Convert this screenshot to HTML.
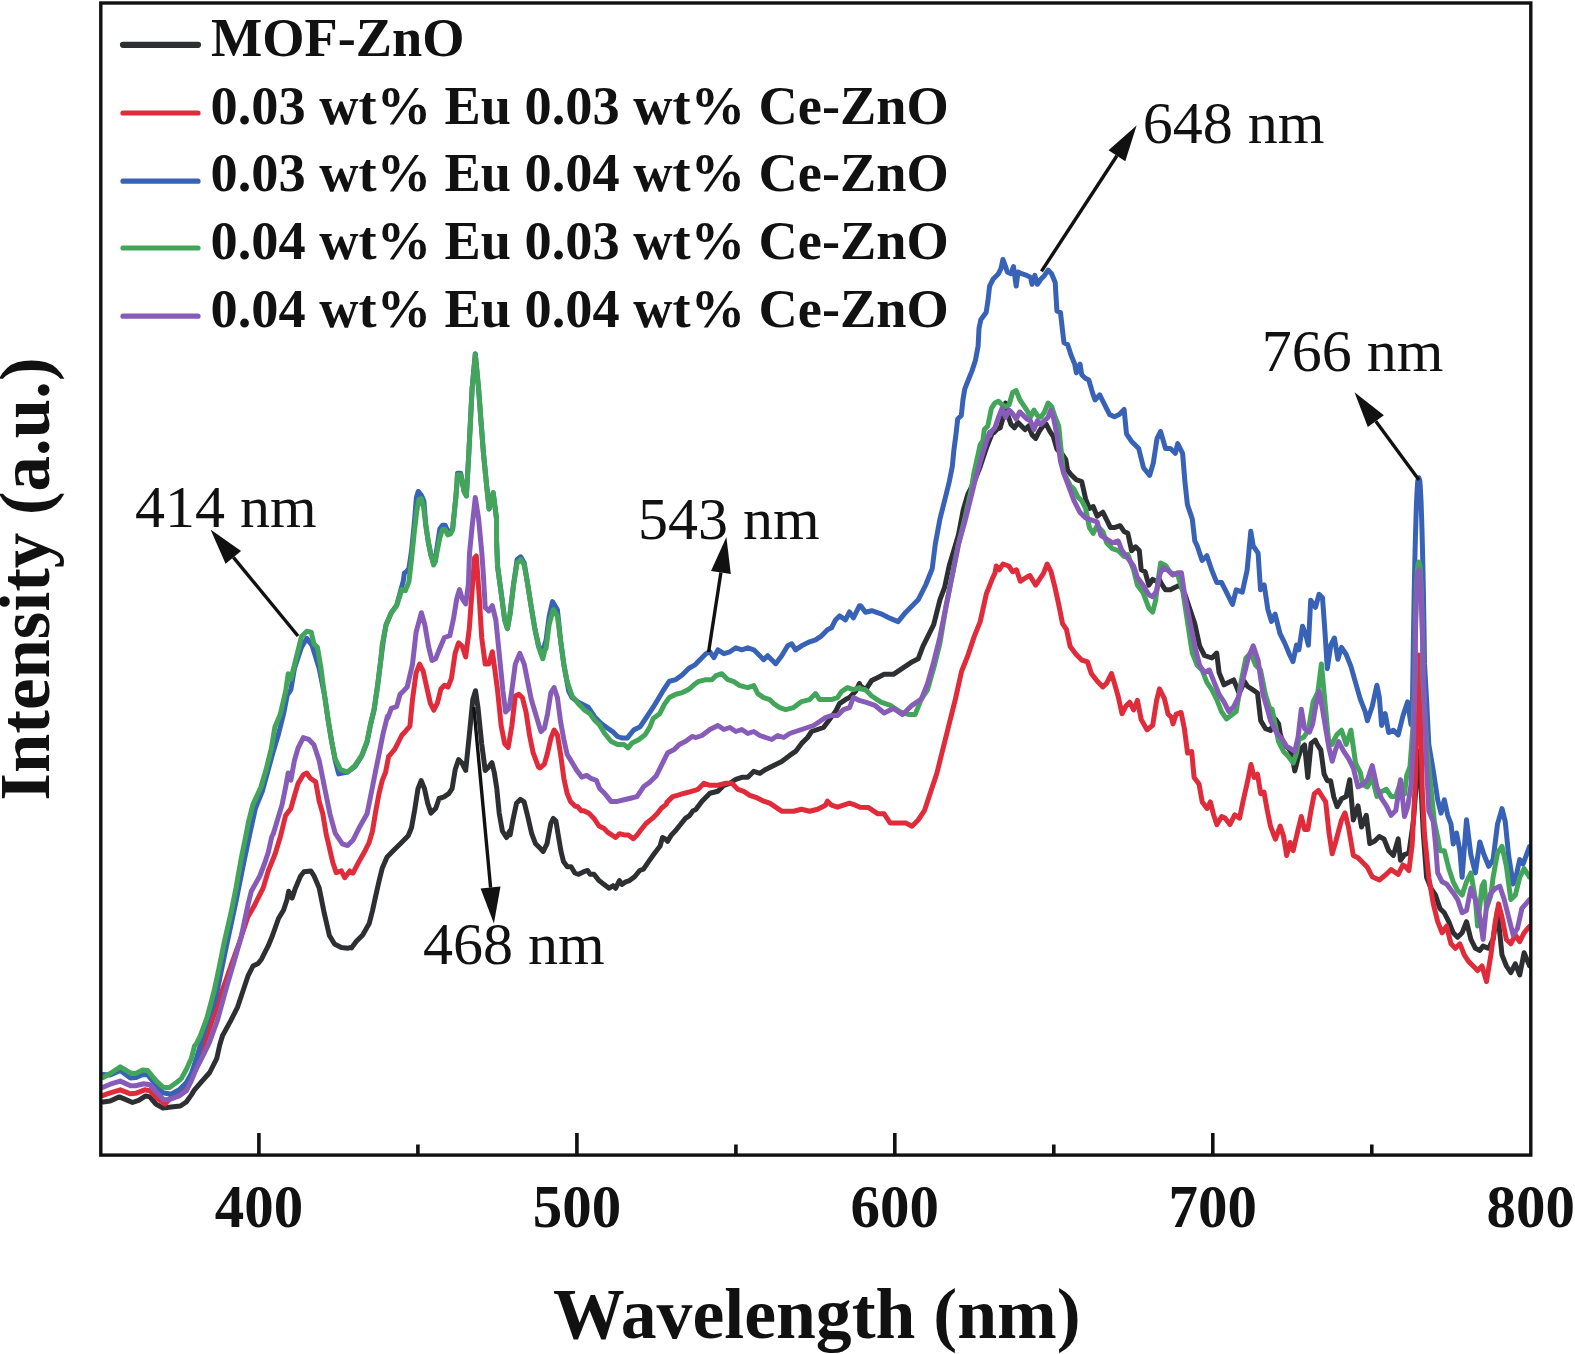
<!DOCTYPE html>
<html><head><meta charset="utf-8"><style>html,body{margin:0;padding:0;background:#fff;overflow:hidden}svg{display:block}</style></head><body>
<svg width="1575" height="1354" viewBox="0 0 1575 1354">
<path d="M103.0 1102.0 110.2 1101.0 119.3 1096.9 125.4 1099.4 132.5 1102.5 138.6 1100.4 145.7 1095.9 149.8 1096.9 155.9 1104.0 163.0 1108.1 171.1 1107.0 180.3 1106.0 186.3 1102.0 191.4 1094.9 194.5 1089.8 201.6 1081.6 209.7 1072.5 216.8 1058.3 219.8 1044.7 222.5 1035.7 230.9 1020.4 237.7 1006.8 242.8 991.5 247.9 976.2 253.0 966.0 258.1 963.5 261.5 959.2 268.3 945.7 272.5 935.5 278.5 918.5 283.6 910.0 287.0 899.8 288.7 891.3 292.1 898.1 295.5 887.9 300.6 876.0 304.0 871.8 310.8 870.9 314.1 876.0 319.2 887.9 324.3 913.4 329.4 935.5 334.5 944.0 341.3 947.4 348.1 948.2 350.0 947.6 351.4 947.9 356.2 941.4 362.7 934.9 369.2 923.6 372.5 910.6 375.7 895.9 379.0 881.3 382.2 868.3 387.1 857.0 392.0 852.1 395.2 848.8 400.1 844.0 405.0 839.1 408.2 835.8 411.5 827.7 414.7 809.9 418.0 788.7 421.2 780.6 424.5 788.7 427.7 803.4 431.0 813.1 435.8 808.2 439.1 798.5 444.0 796.9 448.8 793.6 452.1 788.7 455.3 769.2 458.6 759.5 461.8 762.7 462.5 764.1 463.9 766.9 465.7 770.4 469.3 735.0 472.8 699.5 475.5 690.7 478.1 708.4 481.7 743.8 485.2 770.4 488.8 766.9 491.5 763.1 491.9 762.7 494.3 772.5 496.8 788.7 499.2 813.1 502.4 831.0 506.5 837.5 509.8 831.0 510.0 831.9 510.2 834.9 512.7 821.0 516.5 803.2 520.3 799.4 524.1 801.9 527.9 817.1 531.7 833.7 535.6 843.8 539.4 847.6 543.2 851.4 547.0 843.8 550.8 823.5 553.3 818.4 555.9 821.0 558.4 836.2 561.0 851.4 563.5 861.6 567.3 866.7 571.1 866.7 574.9 873.0 578.7 874.3 583.8 871.7 587.6 870.5 590.2 874.3 594.0 874.3 599.0 880.6 604.1 884.4 609.2 888.3 613.0 885.7 615.6 888.3 619.4 880.6 621.9 884.4 625.7 881.9 629.5 880.6 634.6 876.8 639.7 870.5 643.5 869.2 648.6 861.6 654.9 852.7 660.0 846.3 662.5 837.5 665.1 838.7 667.6 841.3 671.4 834.9 675.2 831.1 680.3 824.8 685.4 818.4 689.2 815.9 693.0 810.8 695.0 810.0 696.0 809.2 702.0 801.2 709.9 793.3 717.9 791.3 723.9 785.3 729.9 783.3 735.8 779.3 741.8 777.3 747.8 777.3 753.8 771.3 759.8 773.3 765.7 769.4 773.7 765.4 781.7 761.4 789.7 755.4 795.6 751.4 801.6 743.4 807.6 737.5 811.6 731.5 817.6 729.5 823.5 727.5 829.5 719.5 835.5 711.6 839.5 703.6 845.5 699.6 849.5 697.6 855.4 691.6 859.4 683.6 860.0 685.5 865.5 689.8 871.7 680.5 877.9 677.4 884.1 674.3 893.4 674.3 902.7 668.1 912.0 661.9 918.2 658.8 922.9 646.4 927.5 637.1 933.7 624.7 939.9 599.8 944.6 587.4 949.2 565.7 953.9 550.2 958.5 534.7 963.2 509.9 967.8 494.4 974.0 482.0 980.2 466.5 986.4 447.9 992.6 432.4 993.8 432.7 996.7 429.6 1000.2 427.8 1003.8 415.4 1005.6 403.0 1007.3 413.6 1010.9 424.3 1014.4 427.8 1018.0 422.5 1021.5 426.0 1025.0 429.6 1028.6 426.0 1032.1 434.9 1035.7 438.4 1039.2 431.4 1042.8 426.0 1046.3 424.3 1049.9 431.4 1053.4 436.7 1056.9 449.1 1062.3 454.4 1065.8 459.7 1067.6 470.3 1069.8 473.1 1070.2 473.8 1076.0 479.6 1081.7 481.5 1085.6 498.8 1089.4 508.4 1093.2 506.5 1097.1 516.1 1102.8 512.2 1106.7 519.9 1110.5 527.6 1114.4 527.6 1120.1 525.7 1124.0 531.4 1127.8 533.3 1131.6 550.6 1135.5 546.8 1139.3 550.6 1141.2 569.8 1145.1 571.7 1148.9 585.2 1152.7 579.4 1156.6 581.3 1160.0 580.4 1160.6 582.4 1165.5 589.8 1170.4 589.8 1175.3 587.3 1180.1 584.9 1185.0 594.6 1189.9 609.2 1194.8 623.9 1199.6 645.8 1204.5 655.5 1211.8 658.0 1216.7 653.1 1219.1 672.6 1224.0 684.8 1228.9 682.3 1233.7 679.9 1238.6 692.1 1240.5 690.6 1244.5 681.6 1247.7 686.5 1252.6 689.7 1257.5 693.0 1260.7 720.6 1265.6 728.7 1270.5 730.4 1275.4 719.0 1278.6 723.9 1280.2 733.6 1283.5 745.0 1288.4 748.2 1291.6 753.1 1294.8 771.0 1298.1 758.0 1301.3 748.2 1304.6 745.0 1307.8 777.5 1311.1 743.4 1315.2 740.1 1317.6 745.0 1320.8 749.9 1324.1 774.2 1327.3 780.7 1330.6 780.7 1333.8 797.0 1337.1 806.7 1340.0 801.8 1341.5 798.7 1346.2 796.4 1349.7 779.8 1353.3 820.0 1358.0 805.8 1361.5 827.1 1366.3 815.3 1369.8 843.6 1374.5 841.3 1379.3 836.5 1384.0 838.9 1388.7 850.7 1393.4 855.4 1398.2 838.9 1400.5 860.2 1404.5 854.6 1408.9 853.0 1413.3 821.9 1417.7 766.5 1418.8 751.0 1421.1 788.7 1423.3 833.0 1426.6 877.3 1431.0 888.4 1435.5 895.1 1439.9 908.4 1444.3 912.8 1448.8 921.7 1453.2 932.8 1457.6 937.2 1462.1 932.8 1466.5 921.7 1470.9 939.4 1475.4 948.3 1479.8 950.5 1483.1 946.1 1488.7 948.3 1493.1 939.4 1497.5 910.6 1502.0 954.9 1506.4 966.0 1510.8 972.7 1515.3 963.8 1519.7 974.9 1524.1 952.7 1529.5 965.7" fill="none" stroke="#2e2f33" stroke-width="5.0" stroke-linejoin="round" stroke-linecap="round"/>
<path d="M103.0 1095.4 110.2 1092.8 120.3 1089.8 130.5 1093.8 135.6 1093.3 144.7 1089.8 149.8 1090.8 156.9 1097.9 165.0 1104.0 173.1 1095.4 181.3 1090.8 189.4 1082.7 195.5 1067.4 199.6 1057.3 204.0 1044.1 214.0 1015.3 220.8 994.9 230.9 966.0 239.4 942.3 247.9 916.8 254.7 904.9 263.2 887.9 268.3 870.9 275.1 854.0 280.3 837.0 285.6 815.5 290.9 808.4 294.4 796.0 298.0 783.6 303.3 774.8 306.8 773.0 310.4 778.3 315.7 781.9 319.2 801.4 322.8 813.8 326.3 834.8 327.7 840.4 332.8 862.5 336.2 872.6 341.3 870.9 344.7 877.7 349.8 870.9 350.0 872.4 353.0 873.2 357.9 863.5 364.4 852.1 369.2 842.3 372.5 831.0 375.7 811.5 379.0 793.6 382.2 780.6 385.5 772.5 388.7 756.2 390.8 754.0 394.8 749.1 398.4 742.1 401.9 735.0 405.4 731.4 409.9 726.1 412.5 699.5 416.1 672.9 419.6 664.1 423.2 671.2 426.7 687.1 430.3 703.1 433.8 710.2 437.4 703.1 440.9 688.9 444.4 685.3 448.0 687.1 451.5 678.2 455.1 653.4 458.6 642.8 462.2 646.3 465.7 657.0 469.3 628.6 471.9 593.2 474.6 557.7 476.3 556.0 479.0 593.2 481.7 637.5 485.2 664.1 488.8 664.1 492.3 651.7 494.1 664.1 497.6 690.7 501.2 726.1 504.7 743.8 508.2 747.4 511.8 726.1 515.3 696.0 518.9 694.2 522.4 697.7 526.0 711.9 529.5 735.0 533.1 752.7 538.4 766.9 540.0 768.0 544.4 764.1 547.6 752.7 550.9 738.1 554.1 730.0 557.4 734.8 560.6 754.3 563.9 778.7 567.1 793.3 570.4 801.4 575.2 806.3 577.5 806.5 581.3 810.8 583.8 810.8 588.9 813.3 594.0 818.4 599.0 826.0 604.1 828.6 607.9 832.4 611.7 834.9 615.6 837.5 619.4 833.7 624.4 834.9 628.3 834.9 633.3 838.7 637.1 834.9 641.0 829.8 646.0 823.5 652.4 818.4 657.5 813.3 661.3 808.3 666.3 804.4 666.8 802.4 672.7 796.6 679.2 794.9 680.0 794.5 680.3 794.3 685.4 793.0 690.5 791.7 695.0 790.3 698.0 789.3 704.0 783.3 709.9 785.3 717.9 785.3 725.9 783.3 731.9 783.3 737.8 789.3 743.8 791.3 749.8 795.3 755.8 797.3 763.7 801.2 769.7 803.2 775.7 807.2 781.7 811.2 787.7 811.2 793.6 811.2 801.6 809.2 809.6 811.2 817.6 809.2 825.5 805.2 827.5 801.2 831.5 805.2 837.5 807.2 843.5 805.2 849.5 803.2 855.4 805.2 860.0 807.2 868.6 807.6 877.9 813.8 884.1 813.8 890.3 823.1 899.6 823.1 905.8 823.1 912.0 826.2 918.2 820.0 924.4 810.7 930.6 792.1 936.8 773.5 943.0 748.7 949.2 723.9 955.4 699.1 961.6 671.2 967.8 655.7 974.0 637.1 980.2 621.6 986.4 593.6 992.6 578.1 995.0 573.0 996.3 566.0 999.2 569.8 1003.0 564.0 1008.8 566.0 1012.6 571.7 1016.5 569.8 1020.3 581.3 1026.1 577.5 1029.9 575.6 1035.7 585.2 1039.5 579.4 1043.3 573.6 1047.2 564.0 1051.0 571.7 1054.9 587.1 1058.7 604.4 1062.5 623.6 1066.4 629.3 1070.2 646.6 1076.0 654.3 1081.7 660.0 1087.5 661.9 1091.3 673.5 1097.1 681.1 1102.8 686.9 1106.7 683.1 1111.5 673.5 1114.4 683.1 1118.2 696.5 1122.0 713.8 1125.9 706.1 1129.7 702.2 1133.6 709.9 1137.4 700.3 1141.2 719.5 1147.0 729.9 1152.7 725.3 1156.6 700.3 1159.5 688.8 1164.3 698.4 1166.8 708.6 1168.0 714.0 1171.3 717.2 1173.0 723.9 1176.2 714.1 1181.1 712.5 1184.4 728.7 1187.6 753.1 1191.7 751.5 1194.1 777.5 1199.0 784.0 1202.2 801.9 1207.1 808.4 1210.4 801.9 1213.6 814.8 1216.9 824.6 1221.7 816.5 1225.0 818.1 1229.9 824.6 1234.7 814.8 1239.6 818.1 1242.9 801.9 1247.7 780.7 1251.0 764.5 1254.2 777.5 1257.5 774.2 1260.7 793.7 1264.0 792.1 1267.2 810.0 1270.5 826.2 1275.4 839.2 1280.2 826.2 1283.5 836.0 1286.7 855.5 1290.0 842.5 1293.2 850.6 1298.1 829.5 1301.3 816.5 1304.6 829.5 1307.8 829.5 1311.1 810.0 1314.3 793.7 1318.4 790.5 1322.5 797.0 1325.7 801.9 1329.0 832.7 1332.2 853.8 1335.5 842.5 1340.0 825.7 1341.5 820.0 1345.0 812.9 1348.5 827.1 1353.3 855.4 1358.0 857.8 1362.7 862.5 1367.4 867.3 1372.2 876.7 1379.3 880.0 1386.4 874.3 1391.1 869.6 1398.2 874.3 1402.9 864.9 1405.0 866.1 1408.9 870.7 1412.2 844.1 1415.5 777.6 1417.0 710.2 1417.4 663.0 1417.8 658.0 1418.8 655.0 1419.8 658.0 1420.2 663.0 1420.3 698.3 1422.2 788.7 1424.4 833.0 1428.8 877.3 1433.3 903.9 1437.7 921.7 1442.1 932.8 1446.6 926.1 1451.0 943.8 1455.4 948.3 1459.9 943.8 1464.3 954.9 1468.7 961.6 1473.2 966.0 1477.6 970.5 1482.0 966.0 1486.5 981.5 1490.9 954.9 1495.3 921.7 1498.6 903.9 1502.0 917.2 1506.4 939.4 1510.8 943.8 1515.3 935.0 1519.7 941.6 1524.1 932.8 1529.5 926.3" fill="none" stroke="#e02b3b" stroke-width="5.0" stroke-linejoin="round" stroke-linecap="round"/>
<path d="M103.0 1074.5 110.2 1075.0 120.3 1070.5 130.5 1078.1 135.6 1077.6 142.7 1074.5 147.7 1075.0 155.9 1084.7 163.0 1092.8 171.1 1094.3 179.2 1089.8 186.3 1082.7 191.4 1073.5 196.5 1058.3 200.8 1043.9 207.2 1022.1 215.7 998.3 225.8 949.1 236.0 901.5 244.5 859.1 249.8 834.0 255.4 808.4 262.5 790.7 273.2 751.7 278.5 734.0 283.8 712.8 287.3 695.0 290.9 689.7 294.4 668.5 301.5 647.2 306.8 638.3 312.1 645.4 319.2 668.5 324.5 695.0 328.1 719.9 331.6 741.1 335.2 760.6 338.7 773.9 347.6 772.1 354.7 766.8 361.7 756.2 367.1 742.0 370.6 724.3 374.1 710.1 377.7 685.3 381.2 657.0 383.3 641.0 386.0 625.1 391.3 612.7 396.6 605.6 401.9 586.1 403.3 580.9 404.4 573.0 406.2 572.1 408.9 568.6 411.5 550.9 414.2 524.3 416.4 497.7 418.2 491.5 421.3 495.1 423.9 501.3 425.7 524.3 428.3 542.0 431.0 555.3 433.7 563.3 435.4 557.9 437.2 546.4 439.9 528.7 442.5 525.2 445.2 525.2 447.8 531.4 450.5 532.3 452.7 527.8 454.0 515.4 455.8 497.7 457.0 482.6 457.5 473.2 460.7 473.2 464.0 491.1 466.4 495.9 468.8 453.7 472.1 388.7 475.3 353.8 478.6 388.7 481.0 421.2 483.5 453.7 486.7 486.2 489.1 508.9 491.6 499.2 493.2 492.7 496.5 518.7 496.5 539.4 497.6 566.6 501.2 593.2 504.7 619.8 507.4 628.6 510.0 614.4 513.6 584.3 517.1 559.5 520.7 556.8 524.2 563.0 527.7 584.3 531.3 607.4 534.8 628.6 538.4 644.6 542.8 655.2 545.0 643.3 546.0 640.6 549.2 616.2 552.5 601.6 557.4 609.7 560.6 640.6 563.9 665.0 568.7 691.0 572.0 697.5 578.5 702.3 588.2 707.2 594.7 717.0 601.2 723.5 607.7 728.3 612.6 731.6 617.5 736.5 622.3 738.1 627.2 738.1 633.7 730.0 640.2 726.7 646.7 717.0 653.2 707.2 658.1 699.1 662.9 691.0 669.4 681.2 675.9 679.6 682.4 674.7 688.9 668.2 695.0 664.9 698.0 661.7 705.9 653.7 709.9 651.8 713.9 657.7 717.9 649.8 723.9 653.7 729.9 651.8 735.8 647.8 741.8 649.8 747.8 647.8 753.8 649.8 759.8 655.7 763.7 659.7 767.7 655.7 771.7 659.7 775.7 663.7 781.7 655.7 787.7 645.8 791.7 643.8 795.6 649.8 801.6 645.8 809.6 641.8 815.6 639.8 821.6 635.8 827.5 629.8 831.5 627.8 835.5 619.9 839.5 615.9 845.5 619.9 849.5 611.9 853.4 617.9 859.4 605.9 860.0 607.0 860.9 606.0 865.5 612.2 871.7 610.7 881.0 613.8 890.3 618.4 898.1 621.6 905.8 612.2 912.0 606.0 918.2 599.8 926.0 584.3 932.2 568.8 935.3 544.0 939.9 519.2 944.6 500.6 949.2 482.0 952.3 466.5 953.8 450.9 955.9 434.9 957.7 419.0 961.3 415.4 963.0 399.5 964.8 388.8 968.3 380.0 971.9 371.1 975.4 360.5 978.1 346.3 979.0 328.6 980.8 319.7 986.1 312.6 987.8 302.0 989.6 286.1 993.2 279.0 998.5 273.7 1001.1 268.3 1002.9 259.5 1005.6 266.6 1007.3 271.9 1010.9 273.7 1013.5 266.6 1016.2 286.1 1018.0 271.9 1021.5 273.7 1026.8 275.4 1030.4 277.2 1032.1 284.3 1034.8 275.4 1037.4 284.3 1041.0 279.0 1044.5 275.4 1048.1 270.1 1051.6 273.7 1055.2 282.5 1056.9 310.9 1060.5 312.6 1062.3 328.6 1064.0 342.8 1067.6 344.5 1071.1 355.2 1074.7 364.0 1076.4 372.9 1080.0 364.0 1081.7 374.7 1085.3 378.2 1088.8 380.0 1092.4 392.4 1095.0 400.0 1099.7 394.9 1104.6 404.6 1109.5 414.4 1114.4 416.8 1119.2 414.4 1124.1 409.5 1126.5 433.8 1131.4 441.2 1138.7 448.5 1143.6 468.0 1149.7 475.3 1153.3 463.1 1157.0 438.7 1160.6 431.4 1165.5 448.5 1170.4 448.5 1175.3 453.3 1177.7 443.6 1182.6 453.3 1185.0 482.6 1187.4 504.5 1192.3 519.1 1194.8 541.0 1197.2 545.9 1202.1 560.5 1206.9 555.7 1211.8 570.3 1216.7 582.4 1221.5 582.4 1226.4 592.2 1232.5 604.4 1236.2 589.8 1242.3 592.2 1247.1 570.3 1250.8 531.3 1253.2 545.9 1258.1 553.2 1260.5 589.8 1264.2 584.9 1267.8 609.2 1271.5 621.4 1275.1 614.1 1280.0 633.6 1284.9 643.3 1285.0 643.6 1289.5 654.5 1293.0 661.6 1296.5 645.1 1298.9 649.8 1302.5 626.2 1306.0 635.6 1308.4 645.1 1310.7 600.2 1315.5 607.3 1319.0 594.3 1322.5 597.8 1324.9 630.9 1327.3 668.7 1330.8 645.1 1334.4 638.0 1337.9 659.3 1341.5 647.4 1346.2 654.5 1350.9 666.4 1355.6 682.9 1360.4 699.4 1365.1 711.3 1367.4 720.7 1372.2 706.5 1376.9 685.3 1379.3 697.1 1381.6 725.4 1385.2 713.6 1388.7 732.5 1393.4 730.2 1398.2 734.9 1402.9 716.0 1407.6 701.8 1411.0 724.6 1412.5 699.8 1413.0 667.7 1413.6 627.7 1414.2 592.7 1414.8 562.7 1415.4 537.7 1416.0 517.7 1416.5 502.7 1417.0 492.7 1417.4 485.7 1417.8 480.7 1418.8 477.7 1419.8 480.7 1420.2 485.7 1420.6 492.7 1421.1 502.7 1421.6 517.7 1422.2 537.7 1422.8 562.7 1423.4 592.7 1424.0 627.7 1424.5 663.4 1426.8 703.9 1428.8 744.3 1433.3 770.9 1437.7 799.8 1441.0 813.1 1444.3 799.8 1447.7 815.3 1451.0 824.1 1453.2 844.1 1456.5 833.0 1459.9 850.7 1462.1 877.3 1466.5 819.7 1470.9 855.2 1475.4 872.9 1479.8 841.9 1484.2 855.2 1488.7 866.3 1493.1 859.6 1497.5 824.1 1502.0 808.6 1505.3 821.9 1508.6 855.2 1513.1 884.0 1516.4 875.1 1519.7 859.6 1523.0 864.0 1526.4 855.2 1529.5 846.7" fill="none" stroke="#3862b6" stroke-width="5.0" stroke-linejoin="round" stroke-linecap="round"/>
<path d="M103.0 1077.6 110.2 1073.5 120.3 1066.9 130.5 1073.0 135.6 1073.5 142.7 1070.0 147.7 1070.5 155.9 1080.6 163.0 1087.2 169.1 1087.7 176.2 1082.7 181.3 1078.6 186.3 1069.5 191.4 1058.3 194.5 1046.1 196.5 1043.6 200.4 1035.7 207.2 1017.0 214.0 991.5 219.1 967.7 224.2 942.3 230.9 913.4 236.0 887.9 241.1 859.1 246.0 835.0 248.3 822.6 252.8 804.9 260.8 787.2 266.1 769.5 271.4 748.2 274.9 726.9 280.2 714.5 285.6 691.5 288.2 673.8 290.9 679.1 296.2 657.8 301.5 636.6 306.8 631.3 311.2 632.1 313.9 643.7 317.4 647.2 321.0 668.5 324.5 695.0 328.1 719.9 331.6 741.1 335.2 758.8 340.5 769.5 347.6 772.1 354.7 765.9 361.7 755.3 367.1 741.1 370.6 723.4 374.1 709.2 377.7 684.4 381.2 656.1 382.0 645.9 386.0 625.1 391.3 612.7 396.6 605.6 401.9 589.6 403.3 590.0 405.3 590.7 408.9 581.9 411.5 559.7 414.2 533.1 416.8 511.0 419.0 499.5 421.3 498.6 423.5 506.6 425.7 524.3 428.3 542.0 431.0 555.3 433.7 565.0 435.4 561.5 437.2 550.9 439.9 537.6 442.5 529.6 445.2 529.6 447.8 534.9 450.5 534.0 452.7 529.6 454.0 515.4 455.8 497.7 457.0 483.3 457.5 474.8 460.7 474.8 464.0 491.1 466.4 495.9 468.8 453.7 472.1 388.7 475.3 354.6 478.6 388.7 481.0 421.2 483.5 453.7 486.7 486.2 489.1 508.9 491.6 499.2 493.2 492.7 496.5 518.7 496.5 539.4 497.6 566.6 501.2 593.2 504.7 619.8 507.4 628.6 510.0 614.4 513.6 584.3 517.1 563.0 520.7 559.5 524.2 564.8 527.7 584.3 531.3 607.4 534.8 628.6 538.4 646.3 542.8 658.8 545.0 649.5 546.0 648.7 549.2 624.4 553.3 609.7 557.4 616.2 560.6 640.6 563.9 665.0 567.1 681.2 572.0 695.8 578.5 704.0 585.0 710.5 589.9 713.7 594.7 720.2 599.6 725.1 604.5 733.2 611.0 741.3 617.5 744.6 624.0 744.6 628.0 747.8 632.1 742.9 638.6 739.7 645.1 734.8 650.0 726.7 653.2 718.6 659.7 713.7 664.6 704.0 669.4 697.5 675.9 694.2 682.4 692.6 688.9 689.3 695.0 683.9 698.0 681.7 705.9 679.7 711.9 679.7 715.9 675.7 721.9 673.7 727.9 679.7 733.9 681.7 739.8 685.6 747.8 687.6 753.8 685.6 757.8 693.6 763.7 697.6 769.7 699.6 773.7 703.6 779.7 707.6 785.7 709.6 793.6 707.6 801.6 701.6 809.6 699.6 815.6 693.6 819.6 699.6 825.5 699.6 831.5 699.6 837.5 697.6 841.5 691.6 847.5 687.6 853.4 689.6 859.4 687.6 860.0 688.7 865.5 689.8 871.7 696.0 881.0 702.2 890.3 705.3 899.6 711.5 908.9 714.6 915.1 714.6 921.3 699.1 927.5 689.8 933.7 668.1 939.9 643.3 946.1 606.0 952.3 575.0 958.5 544.0 964.7 519.2 970.9 491.3 974.0 472.7 980.2 444.8 981.8 442.2 982.5 443.8 984.3 429.6 987.8 426.0 991.4 408.3 994.9 403.0 998.5 401.2 1002.0 404.8 1005.6 406.5 1009.1 404.8 1012.6 392.4 1016.2 390.6 1019.7 399.5 1023.3 404.8 1026.8 410.1 1030.4 417.2 1033.9 410.1 1037.4 415.4 1041.0 417.2 1044.5 411.9 1048.1 403.0 1051.6 406.5 1055.2 417.2 1058.7 426.0 1060.5 443.8 1062.3 461.5 1063.3 471.9 1070.2 485.4 1074.0 489.2 1077.9 496.9 1081.7 500.7 1085.6 508.4 1089.4 527.6 1093.2 533.3 1097.1 525.7 1102.8 531.4 1106.7 542.9 1112.4 548.7 1118.2 550.6 1124.0 556.4 1127.8 554.5 1133.6 569.8 1137.4 585.2 1143.1 592.8 1148.9 608.2 1152.7 612.0 1155.6 600.5 1157.8 582.6 1160.6 563.0 1165.5 565.4 1170.4 572.7 1177.7 575.1 1182.6 589.8 1187.4 621.4 1192.3 653.1 1197.2 665.3 1202.1 670.1 1206.9 682.3 1211.8 689.6 1216.7 699.4 1221.5 711.6 1226.4 718.9 1236.2 711.6 1241.0 682.3 1245.9 658.0 1250.8 653.1 1255.7 665.3 1260.5 670.1 1265.4 694.5 1269.8 708.5 1272.1 709.2 1275.4 725.5 1278.6 741.7 1283.5 751.5 1288.4 756.4 1293.2 762.9 1296.5 753.1 1299.0 739.1 1303.6 737.3 1308.4 730.2 1313.1 701.8 1317.8 692.4 1321.4 664.0 1324.9 701.8 1328.5 739.6 1332.0 744.4 1336.7 734.9 1341.5 730.2 1346.2 744.4 1350.9 730.2 1355.6 763.3 1360.4 772.7 1362.7 784.5 1367.4 786.9 1372.2 777.4 1376.9 796.4 1381.6 791.6 1386.4 789.3 1391.1 796.4 1395.8 796.4 1400.5 782.2 1404.5 794.2 1406.7 775.4 1410.0 766.5 1413.3 722.2 1415.0 670.9 1415.4 622.0 1416.0 602.0 1416.5 587.0 1417.0 577.0 1417.4 570.0 1417.8 565.0 1418.8 562.0 1419.8 565.0 1420.2 570.0 1420.6 577.0 1421.1 587.0 1421.6 602.0 1422.2 622.0 1422.8 647.0 1422.8 676.9 1426.6 744.3 1431.0 788.7 1434.4 821.9 1437.7 837.4 1439.9 850.7 1444.3 850.7 1448.8 868.5 1453.2 881.8 1457.6 890.6 1462.1 895.1 1466.5 881.8 1470.9 872.9 1475.4 899.5 1477.6 926.1 1482.0 886.2 1484.2 881.8 1486.5 908.4 1490.9 895.1 1493.1 877.3 1497.5 853.0 1502.0 846.3 1506.4 866.3 1510.8 899.5 1515.3 895.1 1519.7 877.3 1524.1 868.5 1529.5 877.1" fill="none" stroke="#42a55a" stroke-width="5.0" stroke-linejoin="round" stroke-linecap="round"/>
<path d="M103.0 1087.2 110.2 1084.2 120.3 1081.1 130.5 1085.7 135.6 1085.7 143.7 1083.7 149.8 1084.7 155.9 1091.8 164.0 1099.9 171.1 1098.9 179.2 1095.9 186.3 1090.8 191.4 1080.6 196.5 1068.4 201.6 1058.3 207.7 1046.1 209.5 1042.2 217.4 1020.4 225.8 989.8 234.3 960.9 241.1 937.2 247.9 904.9 251.3 891.3 259.8 876.0 264.9 862.5 268.3 852.3 271.7 837.0 273.3 833.7 276.7 822.6 282.0 804.9 285.6 787.2 288.2 773.0 290.9 780.1 294.4 760.6 298.0 748.2 303.3 737.6 308.6 739.3 313.9 744.7 319.2 760.6 324.5 787.2 329.9 813.8 335.2 833.2 342.3 843.9 347.6 845.6 352.9 840.3 360.0 826.2 367.1 813.8 372.4 787.2 375.9 769.5 379.5 751.7 383.0 734.0 387.4 716.3 387.8 717.8 391.3 708.4 396.6 706.6 400.1 694.2 403.7 690.7 407.2 687.1 412.5 664.1 416.1 632.2 421.4 612.7 424.9 625.1 428.5 646.3 432.0 660.5 435.6 658.8 439.1 649.9 444.4 637.5 449.8 635.7 453.3 619.8 456.8 598.5 459.5 589.6 462.2 598.5 465.7 603.8 468.4 584.3 469.5 553.8 472.1 526.8 475.3 497.6 478.6 518.7 481.8 552.5 483.4 575.4 485.2 607.4 488.8 610.9 492.3 605.6 495.8 619.8 499.4 655.2 502.9 690.7 505.6 711.9 509.1 708.4 511.8 690.7 515.3 664.1 519.8 653.4 524.2 664.1 527.7 681.8 531.3 699.5 536.6 717.2 540.0 728.5 541.1 731.6 544.4 728.3 547.6 713.7 550.9 692.6 554.1 687.7 557.4 697.5 560.6 721.8 563.9 739.7 567.1 754.3 572.0 762.4 576.9 770.6 581.7 777.1 586.6 775.4 591.5 778.7 596.3 780.3 599.6 788.4 604.5 793.3 611.0 801.4 617.5 801.4 624.0 799.8 630.5 798.2 637.0 796.6 643.5 786.8 650.0 781.9 656.5 775.4 662.9 762.4 667.8 752.7 674.3 749.4 679.2 744.6 685.7 741.3 692.2 736.5 694.5 737.1 696.0 737.5 702.0 735.5 709.9 729.5 717.9 725.5 723.9 729.5 729.9 727.5 735.8 731.5 741.8 729.5 747.8 733.5 753.8 731.5 759.8 735.5 765.7 737.5 771.7 739.5 777.7 735.5 783.7 737.5 789.7 733.5 795.6 731.5 801.6 729.5 807.6 727.5 813.6 725.5 819.6 721.5 825.5 717.5 831.5 715.5 837.5 715.5 843.5 709.6 849.5 707.6 853.4 697.6 857.4 699.6 860.0 700.6 865.5 702.2 874.8 705.3 884.1 713.0 893.4 708.4 902.7 714.6 912.0 705.3 921.3 699.1 927.5 683.6 933.7 661.9 939.9 637.1 946.1 606.0 952.3 575.0 958.5 544.0 964.7 522.3 970.9 497.5 977.1 472.7 983.3 451.0 989.5 432.4 989.8 435.6 991.4 431.4 994.9 427.8 998.5 417.2 1002.0 408.3 1005.6 417.2 1009.1 410.1 1012.6 413.6 1016.2 419.0 1019.7 411.9 1023.3 415.4 1026.8 419.0 1030.4 420.7 1033.9 429.6 1037.4 420.7 1041.0 424.3 1044.5 420.7 1048.1 417.2 1050.7 410.1 1053.4 417.2 1056.9 434.9 1060.5 461.5 1064.0 473.9 1064.3 474.8 1068.3 485.4 1074.0 500.7 1079.8 512.2 1085.6 518.0 1091.3 519.9 1097.1 521.8 1100.9 535.3 1106.7 539.1 1112.4 542.9 1118.2 541.0 1122.0 550.6 1127.8 558.3 1133.6 566.0 1137.4 577.5 1143.1 585.2 1148.9 594.8 1152.7 596.7 1156.6 590.9 1160.0 573.8 1163.1 567.8 1168.0 570.3 1172.8 575.1 1177.7 572.7 1181.4 572.7 1185.0 597.1 1189.9 621.4 1194.8 645.8 1199.6 665.3 1204.5 672.6 1209.4 670.1 1214.2 682.3 1219.1 694.5 1224.0 701.8 1228.9 711.6 1233.7 706.7 1238.6 696.9 1243.5 677.5 1248.3 658.0 1253.2 645.8 1258.1 660.4 1263.0 694.5 1267.5 709.6 1270.5 720.6 1273.7 727.1 1277.0 733.6 1281.9 738.5 1286.7 746.6 1290.0 748.2 1294.8 751.5 1298.1 736.9 1301.3 709.2 1304.6 728.7 1309.5 732.0 1312.7 723.9 1316.0 704.4 1319.2 691.4 1322.5 709.2 1325.7 728.7 1329.0 748.2 1332.2 761.2 1335.5 749.9 1338.7 741.7 1340.0 744.4 1343.8 751.4 1348.5 758.5 1353.3 768.0 1358.0 786.9 1362.7 784.5 1367.4 779.8 1372.2 765.6 1376.9 786.9 1381.6 798.7 1386.4 805.8 1391.1 815.3 1395.8 810.5 1400.5 779.8 1404.5 816.6 1407.8 806.4 1411.1 784.2 1413.3 744.3 1415.0 679.3 1415.5 630.0 1416.1 610.0 1416.6 595.0 1417.1 585.0 1417.5 578.0 1417.9 573.0 1418.9 570.0 1419.9 573.0 1420.3 578.0 1420.7 585.0 1421.2 595.0 1421.7 610.0 1422.3 630.0 1422.9 655.0 1423.3 675.4 1424.5 704.9 1426.6 766.5 1428.8 810.8 1433.3 821.9 1435.5 844.1 1437.7 872.9 1442.1 881.8 1446.6 884.0 1453.2 892.9 1457.6 899.5 1462.1 912.8 1466.5 910.6 1470.9 888.4 1475.4 899.5 1479.8 917.2 1483.1 939.4 1486.5 906.2 1490.9 892.9 1495.3 888.4 1499.8 886.2 1504.2 899.5 1508.6 917.2 1513.1 935.0 1517.5 928.3 1521.9 908.4 1529.5 899.7" fill="none" stroke="#875cb9" stroke-width="5.0" stroke-linejoin="round" stroke-linecap="round"/>
<rect x="100.8" y="3.0" width="1430.0" height="1152.1" fill="none" stroke="#111" stroke-width="3.4"/>
<path d="M258.9 1155.1V1133.1 M417.9 1155.1V1144.6 M576.9 1155.1V1133.1 M735.9 1155.1V1144.6 M894.8 1155.1V1133.1 M1053.8 1155.1V1144.6 M1212.8 1155.1V1133.1 M1371.8 1155.1V1144.6" stroke="#111" stroke-width="3.6" fill="none"/>
<g font-family="Liberation Serif" font-weight="bold" font-size="61" fill="#111" text-anchor="middle">
<text transform="translate(258.9,1226.9) scale(0.966,1)">400</text>
<text transform="translate(576.9,1226.9) scale(0.966,1)">500</text>
<text transform="translate(894.8,1226.9) scale(0.966,1)">600</text>
<text transform="translate(1212.8,1226.9) scale(0.966,1)">700</text>
<text transform="translate(1530.8,1226.9) scale(0.966,1)">800</text>
</g>
<text font-family="Liberation Serif" font-weight="bold" font-size="71.7" fill="#111" x="553" y="1337.8">Wavelength (nm)</text>
<text font-family="Liberation Serif" font-weight="bold" font-size="72" fill="#111" transform="translate(49,800.7) rotate(-90) scale(0.985,1)">Intensity (a.u.)</text>
<line x1="123" y1="44.8" x2="198" y2="44.8" stroke="#2e2f33" stroke-width="6.2" stroke-linecap="round"/>
<line x1="123" y1="113" x2="198" y2="113" stroke="#e02b3b" stroke-width="5.2" stroke-linecap="round"/>
<line x1="123" y1="181.2" x2="198" y2="181.2" stroke="#3862b6" stroke-width="5.2" stroke-linecap="round"/>
<line x1="123" y1="248" x2="198" y2="248" stroke="#42a55a" stroke-width="5.2" stroke-linecap="round"/>
<line x1="123" y1="316.2" x2="198" y2="316.2" stroke="#875cb9" stroke-width="5.2" stroke-linecap="round"/>
<g font-family="Liberation Serif" font-weight="bold" font-size="55.7" fill="#111">
<text transform="translate(211,56) scale(0.976,1)">MOF-ZnO</text>
<text transform="translate(210.6,123.6) scale(0.976,1)">0.03 wt% Eu 0.03 wt% Ce-ZnO</text>
<text transform="translate(210.6,191.1) scale(0.976,1)">0.03 wt% Eu 0.04 wt% Ce-ZnO</text>
<text transform="translate(210.6,258.6) scale(0.976,1)">0.04 wt% Eu 0.03 wt% Ce-ZnO</text>
<text transform="translate(210.6,326.6) scale(0.976,1)">0.04 wt% Eu 0.04 wt% Ce-ZnO</text>
</g>
<g font-family="Liberation Serif" font-size="60" fill="#111">
<text x="135.0" y="527">414 nm</text>
<text x="638.0" y="539">543 nm</text>
<text x="423.0" y="963.6">468 nm</text>
<text x="1142.8" y="143.3">648 nm</text>
<text x="1261.8" y="371">766 nm</text>
</g>
<line x1="298" y1="636" x2="233.4" y2="557.3" stroke="#111" stroke-width="3.4"/>
<path d="M210.5 529.5L241.1 551.0L225.6 563.7Z" fill="#111"/>
<line x1="708.6" y1="652" x2="720.9" y2="572.5" stroke="#111" stroke-width="3.4"/>
<path d="M726.4 536.9L730.8 574.0L711.0 570.9Z" fill="#111"/>
<line x1="473.8" y1="707.2" x2="490.6" y2="887.6" stroke="#111" stroke-width="3.4"/>
<path d="M493.9 923.4L480.6 888.5L500.5 886.6Z" fill="#111"/>
<line x1="1041.4" y1="271.4" x2="1116.9" y2="155.7" stroke="#111" stroke-width="3.4"/>
<path d="M1136.6 125.6L1125.3 161.2L1108.5 150.3Z" fill="#111"/>
<line x1="1419" y1="480" x2="1375.8" y2="421.2" stroke="#111" stroke-width="3.4"/>
<path d="M1354.5 392.2L1383.9 415.3L1367.8 427.1Z" fill="#111"/>
</svg></body></html>
